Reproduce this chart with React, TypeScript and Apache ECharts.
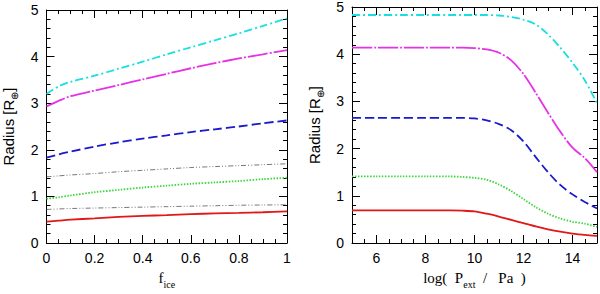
import React, { useEffect, useRef } from "react";
import * as echarts from "echarts";

const fIce = [0, 0.05, 0.1, 0.2, 0.3, 0.4, 0.5, 0.6, 0.7, 0.8, 0.9, 1];
const leftCyan = [3.2, 3.36, 3.46, 3.59, 3.74, 3.89, 4.05, 4.2, 4.35, 4.5, 4.66, 4.82];
const leftMagenta = [2.93, 3.05, 3.15, 3.27, 3.39, 3.51, 3.63, 3.75, 3.86, 3.96, 4.05, 4.14];
const leftBlue = [1.83, 1.9, 1.96, 2.07, 2.16, 2.24, 2.31, 2.38, 2.44, 2.5, 2.57, 2.63];
const leftGrayUpper = [1.42, 1.44, 1.46, 1.49, 1.53, 1.56, 1.59, 1.62, 1.64, 1.66, 1.68, 1.7];
const leftGreen = [0.95, 0.98, 1.02, 1.09, 1.14, 1.19, 1.23, 1.27, 1.3, 1.33, 1.37, 1.4];
const leftGrayLower = [0.72, 0.73, 0.74, 0.75, 0.76, 0.77, 0.78, 0.79, 0.8, 0.81, 0.815, 0.82];
const leftRed = [0.46, 0.48, 0.5, 0.53, 0.56, 0.58, 0.6, 0.62, 0.635, 0.645, 0.66, 0.68];

const logP = [5, 6, 7, 8, 9, 9.5, 10, 10.5, 11, 11.5, 12, 12.5, 13, 13.5, 14, 14.5, 15];
const rightCyan = [4.83, 4.83, 4.83, 4.83, 4.83, 4.83, 4.83, 4.83, 4.82, 4.79, 4.73, 4.63, 4.42, 4.14, 3.82, 3.45, 2.96];
const rightMagenta = [4.14, 4.14, 4.14, 4.14, 4.14, 4.14, 4.13, 4.1, 4.03, 3.87, 3.58, 3.18, 2.76, 2.36, 2.02, 1.8, 1.5];
const rightBlue = [2.65, 2.65, 2.65, 2.65, 2.65, 2.65, 2.64, 2.6, 2.52, 2.39, 2.15, 1.82, 1.5, 1.23, 1.03, 0.87, 0.73];
const rightGreen = [1.41, 1.41, 1.41, 1.41, 1.41, 1.4, 1.38, 1.34, 1.24, 1.1, 0.93, 0.76, 0.62, 0.52, 0.45, 0.41, 0.34];
const rightRed = [0.69, 0.69, 0.69, 0.69, 0.69, 0.685, 0.67, 0.62, 0.56, 0.49, 0.42, 0.35, 0.29, 0.24, 0.2, 0.17, 0.15];

const rightMajorTicks = [6, 8, 10, 12, 14];

const CYAN = "#19e0e0";
const MAGENTA = "#e632e6";
const BLUE = "#1a1acc";
const GREEN = "#3ad63a";
const RED = "#e01818";
const GRAY = "#555555";

const tickFont = "Liberation Sans";
const serif = "Liberation Serif";

function zip(xs: number[], ys: number[]) {
  return xs.map((x, i) => [x, ys[i]]);
}

export default function App() {
  const ref = useRef<HTMLDivElement>(null);
  useEffect(() => {
    if (!ref.current) return;
    const chart = echarts.init(ref.current, undefined, { renderer: "svg" });

    const axisLine = { show: true, onZero: false, lineStyle: { color: "#000", width: 1 } };
    const noLine = { show: false, onZero: false };
    const tick = (len: number, custom?: number[]) => {
      const t: any = { show: true, inside: true, length: len, lineStyle: { color: "#000", width: 1 } };
      if (custom) t.customValues = custom;
      return t;
    };
    const minor = (n: number) => ({ show: true, splitNumber: n, length: 4, lineStyle: { color: "#000", width: 1 } });
    const label = (show: boolean, fmt?: any, custom?: number[]) => {
      const l: any = {
        show,
        color: "#000",
        fontSize: 14,
        fontFamily: tickFont,
        margin: 8,
      };
      if (fmt) l.formatter = fmt;
      if (custom) l.customValues = custom;
      return l;
    };

    const nameStyle = {
      color: "#000",
      rich: {
        a: { fontSize: 15, fontFamily: serif, color: "#000" },
        s: { fontSize: 10, fontFamily: serif, color: "#000", verticalAlign: "bottom", lineHeight: 22 },
      },
    };

    const leftX = (pos: string, show: boolean) => ({
      type: "value",
      gridIndex: 0,
      min: 0,
      max: 1,
      interval: 0.2,
      position: pos,
      axisLine,
      axisTick: tick(8),
      minorTick: minor(4),
      axisLabel: label(show, (v: number) => (v === 0 ? "0" : v === 1 ? "1" : String(Math.round(v * 10) / 10))),
      splitLine: { show: false },
      name: show ? "{a|f}{s|ice}" : "",
      nameLocation: "middle",
      nameGap: 24,
      nameTextStyle: nameStyle,
    });

    const rightXMinor = (pos: string, show: boolean) => ({
      type: "value",
      gridIndex: 1,
      min: 5,
      max: 15,
      interval: 0.5,
      position: pos,
      axisLine,
      axisTick: tick(4),
      axisLabel: label(show, undefined, rightMajorTicks),
      splitLine: { show: false },
      name: show ? "{a|log(  P}{s|ext}{a|  /   Pa  )}" : "",
      nameLocation: "middle",
      nameGap: 24,
      nameTextStyle: nameStyle,
    });
    const rightXMajor = (pos: string) => ({
      type: "value",
      gridIndex: 1,
      min: 5,
      max: 15,
      interval: 0.5,
      position: pos,
      axisLine: noLine,
      axisTick: tick(8, rightMajorTicks),
      axisLabel: { show: false },
      splitLine: { show: false },
    });

    const yBase = (gridIndex: number, pos: string, show: boolean) => ({
      type: "value",
      gridIndex,
      min: 0,
      max: 5,
      interval: 1,
      position: pos,
      axisLine,
      axisTick: tick(8),
      minorTick: minor(5),
      axisLabel: label(show),
      splitLine: { show: false },
      name: show ? "{a|Radius [R}{s|⊕}{a|]}" : "",
      nameLocation: "middle",
      nameGap: 27,
      nameRotate: 90,
      nameTextStyle: {
        color: "#000",
        rich: {
          a: { fontSize: 15, fontFamily: tickFont, color: "#000" },
          s: { fontSize: 10, fontFamily: tickFont, color: "#000", verticalAlign: "bottom", lineHeight: 22 },
        },
      },
    });

    const mk = (x: number[], y: number[], color: string, type: any, width: number, xi: number, yi: number) => ({
      type: "line",
      data: zip(x, y),
      xAxisIndex: xi,
      yAxisIndex: yi,
      showSymbol: false,
      smooth: 0.3,
      lineStyle: { color, type, width },
      z: 3,
    });

    const option: any = {
      animation: false,
      grid: [
        { left: 43, top: 10, width: 244, height: 243 },
        { left: 352, top: 7, width: 245, height: 246 },
      ],
      xAxis: [
        leftX("bottom", true),
        leftX("top", false),
        rightXMinor("bottom", true),
        rightXMinor("top", false),
        rightXMajor("bottom"),
        rightXMajor("top"),
      ],
      yAxis: [yBase(0, "left", true), yBase(0, "right", false), yBase(1, "left", true), yBase(1, "right", false)],
      series: [
        mk(fIce, leftCyan, CYAN, [8, 3, 2, 3], 1.8, 0, 0),
        mk(fIce, leftMagenta, MAGENTA, [20, 2, 2, 2], 1.8, 0, 0),
        mk(fIce, leftBlue, BLUE, [9, 4], 1.8, 0, 0),
        mk(fIce, leftGrayUpper, GRAY, [5, 2, 1, 2, 1, 2], 0.8, 0, 0),
        mk(fIce, leftGreen, GREEN, [1.5, 1.5], 1.8, 0, 0),
        mk(fIce, leftGrayLower, GRAY, [5, 2, 1, 2, 1, 2], 0.8, 0, 0),
        mk(fIce, leftRed, RED, "solid", 1.8, 0, 0),
        mk(logP, rightCyan, CYAN, [8, 3, 2, 3], 1.8, 2, 2),
        mk(logP, rightMagenta, MAGENTA, [20, 2, 2, 2], 1.8, 2, 2),
        mk(logP, rightBlue, BLUE, [9, 4], 1.8, 2, 2),
        mk(logP, rightGreen, GREEN, [1.5, 1.5], 1.8, 2, 2),
        mk(logP, rightRed, RED, "solid", 1.8, 2, 2),
      ],
    };
    chart.setOption(option);
    return () => chart.dispose();
  }, []);
  return <div ref={ref} style={{ width: 600, height: 294, position: "absolute", left: 0, top: 0, background: "#fff" }} />;
}
